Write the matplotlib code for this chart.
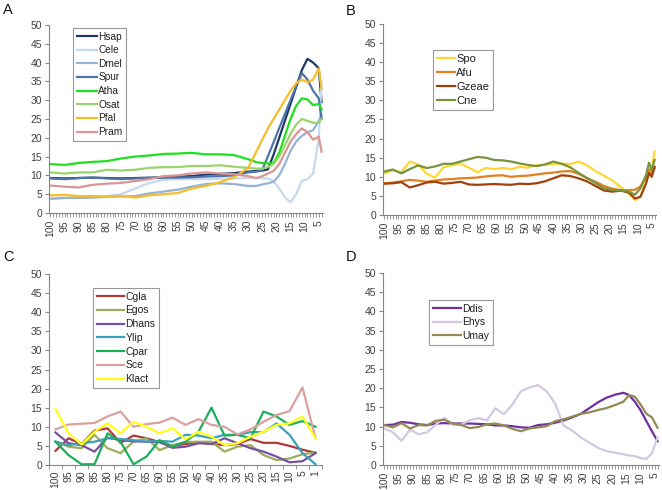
import matplotlib
matplotlib.use('Agg')
import matplotlib.pyplot as plt
from matplotlib.ticker import MultipleLocator, FixedLocator

plt.rcParams['font.family'] = ['Liberation Sans', 'DejaVu Sans']

# ---- Panel A ----
x_a = [100, 95, 90, 85, 80, 75, 70, 65, 60, 55, 50, 45, 40, 35, 30, 27, 25, 23,
       21, 19, 17, 15, 13, 11, 9, 7, 5, 4]
hsap = [9.3, 9.2, 9.3, 9.4, 9.3, 9.2, 9.3, 9.4, 9.5, 9.7, 9.8, 10.2, 10.4, 10.6,
        11.0, 11.2, 11.3, 11.6, 15.5, 20.0, 24.5, 29.0, 33.5, 38.0, 41.0, 40.0, 38.5, 29.5]
cele = [3.8, 4.0, 4.2, 4.3, 4.5, 5.0, 6.5, 8.0, 8.8, 9.0, 9.0, 9.0, 9.1, 9.2,
        9.3, 9.3, 9.2, 9.2, 8.5, 6.5, 4.2, 2.8, 5.0, 8.5, 9.0, 10.5, 20.0, 35.0]
dmel = [3.8, 4.0, 4.0, 4.1, 4.3, 4.4, 4.5, 5.2, 5.7, 6.2, 7.0, 7.7, 7.9, 7.7,
        7.2, 7.2, 7.6, 7.9, 8.3, 10.0, 13.0, 16.5, 19.0, 20.5, 21.5, 22.0, 24.5, 26.0]
spur = [9.2, 9.0, 9.3, 9.4, 9.2, 9.0, 9.2, 9.3, 9.4, 9.4, 9.5, 9.7, 9.8, 10.0,
        10.8, 11.0, 11.5, 15.1, 18.8, 22.6, 26.3, 30.0, 33.7, 37.2, 35.5, 32.5, 30.5, 25.0]
atha = [13.0, 12.8, 13.3, 13.6, 13.8, 14.5, 15.0, 15.3, 15.7, 15.8, 16.0, 15.6, 15.6, 15.4,
        14.3, 13.5, 13.3, 13.2, 13.3, 16.0, 20.5, 25.0, 28.5, 30.5, 30.2, 28.7, 29.0, 27.5]
osat = [10.8, 10.5, 10.8, 10.8, 11.5, 11.3, 11.5, 12.0, 12.2, 12.2, 12.5, 12.5, 12.7, 12.3,
        12.0, 11.8, 11.8, 12.2, 13.0, 15.0, 18.0, 21.0, 23.5, 25.0, 24.5, 24.0, 24.0, 25.0]
pfal = [4.7, 4.8, 4.5, 4.5, 4.4, 4.5, 4.1, 4.7, 5.0, 5.3, 6.5, 7.2, 8.2, 9.5,
        12.0, 16.5, 19.5, 22.5, 25.0, 27.5, 30.0, 32.5, 34.5, 35.5, 34.8, 35.5, 38.5, 33.0]
pram = [7.3, 7.0, 6.8, 7.5, 7.8, 8.0, 8.5, 9.0, 9.8, 10.0, 10.5, 10.8, 10.5, 10.3,
        9.8, 9.3, 9.8, 10.5, 11.2, 13.0, 16.0, 19.0, 21.0, 22.5, 21.5, 19.5, 20.3, 16.3]

# ---- Panel B ----
x_b = [100, 97, 94, 91, 88, 85, 82, 79, 76, 73, 70, 67, 64, 61, 58, 55, 52, 49,
       46, 43, 40, 37, 34, 31, 28, 25, 22, 19, 16, 13, 11, 9, 7, 6, 5, 4]
spo = [10.9, 11.7, 11.2, 14.0, 13.2, 10.8, 9.8, 12.5, 13.0, 13.5, 12.4, 11.2, 12.3, 12.0,
       12.3, 12.0, 12.6, 12.4, 13.0, 13.2, 13.3, 13.5, 13.3, 14.0, 13.0, 11.5, 10.3, 9.0,
       7.3, 5.5, 3.9, 4.8, 9.0, 10.5, 12.0, 16.6]
afu = [8.3, 8.5, 8.8, 9.2, 9.0, 8.7, 9.0, 9.3, 9.4, 9.6, 9.7, 9.8, 10.1, 10.3,
       10.4, 10.0, 10.2, 10.3, 10.6, 10.9, 11.1, 11.4, 11.5, 10.8, 9.6, 8.7, 7.6, 6.9,
       6.5, 6.5, 6.6, 7.5, 10.0, 12.0, 11.0, 12.2]
gzeae = [8.2, 8.3, 8.6, 7.2, 7.8, 8.5, 8.7, 8.2, 8.4, 8.7, 8.0, 7.9, 8.0, 8.1,
         8.0, 7.9, 8.2, 8.1, 8.3, 8.8, 9.6, 10.4, 10.2, 9.6, 8.8, 7.6, 6.4, 6.1,
         6.4, 5.8, 4.3, 4.8, 8.3, 11.0, 10.0, 12.6]
cne = [11.4, 11.9, 10.9, 12.0, 13.0, 12.3, 12.7, 13.4, 13.4, 14.0, 14.6, 15.2, 15.0, 14.4,
       14.3, 14.0, 13.5, 13.1, 12.8, 13.2, 14.0, 13.4, 12.5, 11.0, 9.7, 8.4, 7.0, 6.5,
       6.4, 6.1, 5.3, 7.0, 10.5, 13.7, 11.8, 14.4]

# ---- Panel C ----
c_labels = ['100', '95', '90', '85', '80', '75', '70', '65', '60', '55', '50',
            '45', '40', '35', '30', '25', '20', '15', '10', '5', '1']
cgla = [3.7, 7.0, 5.5, 9.0, 9.6, 5.8, 7.7, 7.0, 6.0, 5.0, 5.5, 6.0, 5.5, 5.2,
        5.5, 6.8, 5.8, 5.8, 5.0, 4.0, 3.2]
egos = [6.1, 4.8, 4.4, 7.9, 4.4, 3.1, 6.1, 7.0, 3.9, 5.2, 6.0, 6.1, 6.1, 3.5,
        4.8, 5.2, 2.6, 1.3, 1.7, 2.8, 3.3]
dhans = [8.5, 5.7, 5.2, 3.5, 7.2, 6.5, 6.2, 6.1, 6.0, 4.5, 4.8, 5.7, 5.5, 7.0,
         5.7, 4.4, 3.5, 2.2, 0.7, 1.0, 3.1]
ylip = [6.1, 5.2, 5.7, 6.1, 7.0, 6.8, 6.5, 6.1, 6.3, 6.1, 7.9, 7.7, 7.0, 7.9,
        7.9, 8.6, 8.6, 10.9, 7.9, 3.1, 0.2]
cpar = [6.1, 2.6, 0.2, 0.2, 8.3, 6.1, 0.2, 2.2, 6.5, 4.8, 6.1, 8.7, 15.0, 7.7,
        7.9, 7.0, 14.0, 12.7, 10.5, 11.5, 10.0]
sce = [9.3, 10.6, 10.8, 11.0, 12.7, 14.0, 10.0, 10.7, 11.1, 12.4, 10.5, 12.0, 10.5, 10.0,
       8.0, 9.3, 11.3, 13.1, 14.1, 20.3, 7.0]
klact = [14.7, 8.3, 5.4, 8.7, 10.9, 8.3, 11.3, 10.0, 8.3, 9.6, 6.7, 8.7, 7.4, 5.2,
         5.7, 7.4, 8.7, 10.5, 10.9, 12.7, 7.0]

# ---- Panel D ----
x_d = [100, 97, 94, 91, 88, 85, 82, 79, 76, 73, 70, 67, 64, 61, 58, 55, 52, 49,
       46, 43, 40, 37, 34, 31, 28, 25, 22, 19, 16, 14, 12, 10, 8, 6, 4]
ddis = [10.4, 10.5, 11.2, 11.0, 10.6, 10.4, 10.8, 10.9, 10.8, 10.8, 10.8, 10.7, 10.6, 10.3,
        10.3, 10.1, 9.8, 9.7, 10.4, 10.6, 11.0, 11.6, 12.4, 13.3, 14.8, 16.3, 17.5, 18.3,
        18.8, 18.2, 16.5, 14.3, 11.5, 8.8, 6.2]
ehys = [9.5, 8.5, 6.3, 9.2, 8.0, 8.5, 10.5, 12.3, 10.4, 10.5, 11.7, 12.2, 11.6, 14.8,
        13.2, 15.8, 19.2, 20.2, 20.8, 19.2, 16.0, 10.2, 9.0, 7.2, 5.8, 4.5, 3.6, 3.2,
        2.8, 2.5, 2.3, 1.8, 1.6, 3.0, 7.2]
umay = [10.4, 9.8, 10.9, 9.5, 10.4, 10.3, 11.5, 11.8, 10.8, 10.4, 9.6, 9.9, 10.6, 10.8,
        10.3, 9.4, 8.8, 9.5, 9.8, 10.1, 11.4, 11.9, 12.6, 13.3, 13.7, 14.3, 14.8, 15.6,
        16.5, 18.2, 17.8, 15.8, 13.4, 12.4, 9.7]

W, H = 662, 490
fig = plt.figure(figsize=(W / 100, H / 100), dpi=100)
axis_grey = '#868686'
text_grey = '#404040'


def px_axes(left, top, right, bottom):
    # axes placed by pixel box (top = y value 50, bottom = y value 0)
    return fig.add_axes([left / W, 1 - bottom / H, (right - left) / W, (bottom - top) / H])


def style(ax):
    for side in ['top', 'right']:
        ax.spines[side].set_visible(False)
    for side in ['left', 'bottom']:
        ax.spines[side].set_color(axis_grey)
        ax.spines[side].set_linewidth(0.8)
    ax.set_ylim(0, 50)
    ax.yaxis.set_major_locator(MultipleLocator(5))
    ax.tick_params(axis='y', colors=axis_grey, labelcolor=text_grey, labelsize=7.5,
                   length=3, width=0.8, pad=2)
    ax.tick_params(axis='x', which='both', colors=axis_grey, labelcolor=text_grey,
                   labelsize=7.5, length=3, width=0.6, rotation=90, pad=2)


def window_axis(ax):
    ax.set_xlim(100.5, 3.5)
    ax.xaxis.set_major_locator(FixedLocator(list(range(100, 4, -5))))
    ax.xaxis.set_minor_locator(MultipleLocator(1))


def legend(ax, x, y, fs, hl):
    leg = ax.legend(loc='upper left', bbox_to_anchor=(x / W, 1 - y / H),
                    bbox_transform=fig.transFigure, fontsize=fs, frameon=True,
                    fancybox=False, handlelength=hl, handletextpad=0.15,
                    labelspacing=0.36, borderpad=0.35, borderaxespad=0)
    leg.get_frame().set_edgecolor('#7f7f7f')
    leg.get_frame().set_linewidth(0.8)
    for t in leg.get_texts():
        t.set_color('#202020')


lw = 1.6

# A
ax = px_axes(49, 25, 323, 213)
ax.plot(x_a, hsap, color='#1F3864', lw=lw, label='Hsap')
ax.plot(x_a, cele, color='#C6D9F1', lw=lw, label='Cele')
ax.plot(x_a, dmel, color='#95B3D7', lw=lw, label='Dmel')
ax.plot(x_a, spur, color='#4F74A8', lw=lw, label='Spur')
ax.plot(x_a, atha, color='#1EE01E', lw=lw, label='Atha')
ax.plot(x_a, osat, color='#9BD46A', lw=lw, label='Osat')
ax.plot(x_a, pfal, color='#F7BE2A', lw=lw, label='Pfal')
ax.plot(x_a, pram, color='#D99694', lw=lw, label='Pram')
style(ax)
window_axis(ax)
legend(ax, 73, 28, 7.3, 2.0)

# B
ax = px_axes(383, 24, 656, 215)
ax.plot(x_b, spo, color='#FFD633', lw=lw, label='Spo')
ax.plot(x_b, afu, color='#E3801F', lw=lw, label='Afu')
ax.plot(x_b, gzeae, color='#A0410D', lw=lw, label='Gzeae')
ax.plot(x_b, cne, color='#77933C', lw=lw, label='Cne')
style(ax)
window_axis(ax)
legend(ax, 433, 50, 8, 1.6)

# C
ax = px_axes(49, 274, 322, 465)
xc = list(range(len(c_labels)))
ax.plot(xc, cgla, color='#B03A3A', lw=lw, label='Cgla')
ax.plot(xc, egos, color='#9BAF5A', lw=lw, label='Egos')
ax.plot(xc, dhans, color='#7A4FA0', lw=lw, label='Dhans')
ax.plot(xc, ylip, color='#3BA0BD', lw=lw, label='Ylip')
ax.plot(xc, cpar, color='#1DAE5A', lw=lw, label='Cpar')
ax.plot(xc, sce, color='#DBA0A0', lw=lw, label='Sce')
ax.plot(xc, klact, color='#FFFF1A', lw=lw, label='Klact')
style(ax)
ax.set_xlim(-0.5, len(c_labels) - 0.5)
ax.set_xticks(xc)
ax.set_xticklabels(c_labels)
ax.set_xticks([i - 0.5 for i in range(len(c_labels) + 1)], minor=True)
ax.tick_params(axis='x', which='major', length=0, pad=4)
legend(ax, 93, 288, 7.5, 2.6)

# D
ax = px_axes(383, 273, 659, 465)
ax.plot(x_d, ddis, color='#7030A0', lw=lw, label='Ddis')
ax.plot(x_d, ehys, color='#D2C8E2', lw=lw, label='Ehys')
ax.plot(x_d, umay, color='#948A54', lw=lw, label='Umay')
style(ax)
window_axis(ax)
legend(ax, 429, 300, 7.5, 2.7)

# panel letters
for letter, x, y in [('A', 3, 3), ('B', 346, 4), ('C', 3, 250), ('D', 346, 250)]:
    fig.text(x / W, 1 - y / H, letter, fontsize=10.5, va='top', ha='left', color='#111111')

plt.savefig('out.png', dpi=100)
